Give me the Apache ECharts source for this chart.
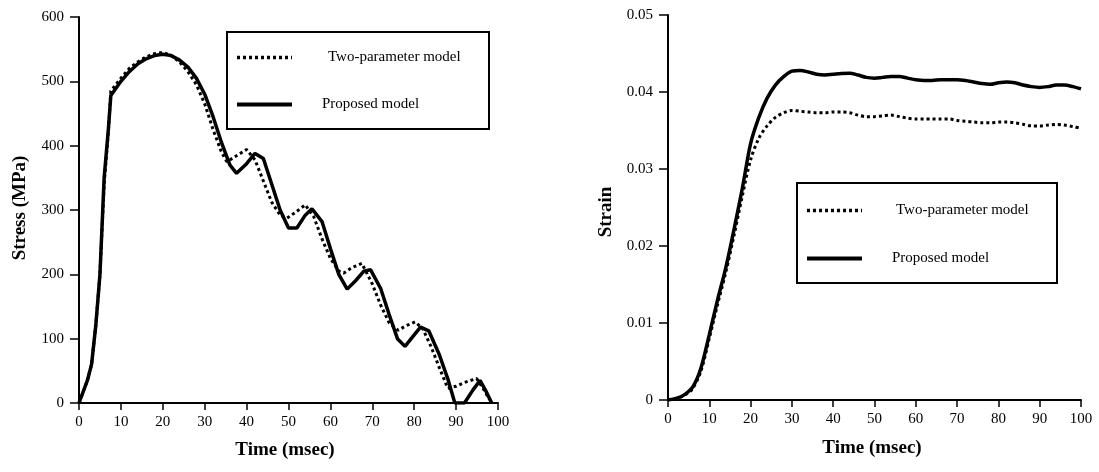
<!DOCTYPE html>
<html>
<head>
<meta charset="utf-8">
<script src="https://cdn.jsdelivr.net/npm/echarts@6/dist/echarts.min.js"></script>
<style>
html,body{margin:0;padding:0;background:#fff;}
#chart{width:1099px;height:472px;}
</style>
</head>
<body>
<div id="chart"></div>
<script>
// ---- Data ----
const seriesNames = ['Two-parameter model', 'Proposed model'];

// Left chart: Stress (MPa) vs Time (msec)
const stressProposed = [
  [0,0],[2,35],[3,60],[4,120],[5,200],[6,350],[7,425],[7.6,478],[10,500],[12,515],[14,527],[16,535],[18,540],[20,542],
  [22,540],[24,533],[26,522],[28,505],[30,480],[32,445],[34,405],[36,370],[37.6,357],[40,372],[42,388],[44,380],
  [46,340],[48,300],[50,272],[52,272],[54,292],[55.6,302],[58,282],[60,240],[62,200],[64,177],[66,190],[68,205],
  [69.6,207],[72,178],[74,138],[76,100],[77.8,88],[80,106],[81.5,118],[83.5,112],[86,75],[88,38],[89.7,0],[92,0],
  [94,20],[95.7,35],[97,20],[98.5,0]
];
const stressTwoParam = [
  [0,0],[2,35],[3,60],[4,120],[5,200],[6,340],[7,420],[7.6,485],[10,505],[12,520],[14,530],[16,538],[18,543],[20,545],
  [22,540],[24,530],[26,515],[28,495],[30,465],[32,425],[34,390],[35.3,375],[38,386],[40,394],[42,378],[44,345],
  [46,312],[48,292],[49.6,287],[52,298],[54,308],[56,290],[58,255],[60,225],[62,205],[63.2,202],[65,210],[67.5,217],
  [70,185],[72,152],[74,125],[76.2,113],[78,120],[80.2,126],[82,116],[84,88],[86,55],[88,23],[90,26],[92,32],
  [94.9,38],[96.5,22],[98,5]
];

// Right chart: Strain vs Time (msec)
const strainTime = [0,2,4,6,8,10,12,14,16,18,20,22,24,26,28,30,32,34,36,38,40,42,44,46,48,50,
  52,54,56,58,60,62,64,66,68,70,72,74,76,78,80,82,84,86,88,90,92,94,96,98,100];
const strainProposed = [0,0.0002,0.0007,0.0017,0.0042,0.0085,0.013,0.0172,0.0222,0.0275,0.0333,0.0367,0.0392,
  0.0409,0.042,0.0427,0.0428,0.0426,0.0423,0.0422,0.0423,0.0424,0.04245,0.0422,0.0419,0.0418,0.0419,0.042,0.042,
  0.0418,0.0416,0.0415,0.0415,0.0416,0.0416,0.0416,0.0415,0.0413,0.0411,0.041,0.0412,0.0413,0.0412,0.0409,0.0407,
  0.0406,0.0407,0.0409,0.0409,0.0407,0.0404];
const strainTwoParam = [0,0.0002,0.0006,0.0015,0.0038,0.008,0.0124,0.0166,0.0214,0.0265,0.0312,0.034,0.0356,
  0.0367,0.0373,0.0376,0.0375,0.0374,0.0373,0.0373,0.0374,0.0374,0.0373,0.037,0.0368,0.0368,0.0369,0.037,0.0368,
  0.0366,0.0365,0.0365,0.0365,0.0365,0.0365,0.0363,0.0362,0.0361,0.036,0.036,0.0361,0.0361,0.036,0.0358,0.0356,
  0.0356,0.0357,0.0358,0.0357,0.0355,0.0353];

// ---- Chart ----
const FONT = 'Liberation Serif';
const chart = echarts.init(document.getElementById('chart'), null, {renderer: 'canvas'});

function xAx(gridIndex) {
  return {
    type: 'value', gridIndex, min: 0, max: 100, interval: 10,
    axisLine: {show: true, lineStyle: {color: '#000', width: 2}},
    axisTick: {show: true, length: 7, lineStyle: {color: '#000', width: 1.5}},
    axisLabel: {color: '#000', fontFamily: FONT, fontSize: 15, margin: 12},
    splitLine: {show: false}
  };
}
function yAx(gridIndex, max, interval) {
  return {
    type: 'value', gridIndex, min: 0, max, interval,
    axisLine: {show: true, lineStyle: {color: '#000', width: 2}},
    axisTick: {show: true, length: 9, lineStyle: {color: '#000', width: 1.5}},
    axisLabel: {color: '#000', fontFamily: FONT, fontSize: 15, margin: 15},
    splitLine: {show: false}
  };
}
const solidStyle = {color: '#000', width: 3.5};
const dotStyle = {color: '#000', width: 3, type: [3, 3]};

function legendCfg(left, top, gap, pad1, pad2) {
  return {
    orient: 'vertical', left, top, padding: 0, itemWidth: 55, itemHeight: 14, itemGap: gap,
    textStyle: {fontFamily: FONT, fontSize: 15, color: '#000'},
    data: [
      {name: seriesNames[0], textStyle: {padding: [0, 0, 0, pad1]},
        itemStyle: {opacity: 0}, lineStyle: {color: '#000', width: 3.5, type: [3, 3]}},
      {name: seriesNames[1], textStyle: {padding: [0, 0, 0, pad2]},
        itemStyle: {opacity: 0}, lineStyle: {color: '#000', width: 4}}
    ]
  };
}

const option = {
  animation: false,
  backgroundColor: '#fff',
  grid: [
    {left: 79, right: 601, top: 17, bottom: 69},
    {left: 668, right: 18, top: 15, bottom: 72}
  ],
  xAxis: [xAx(0), xAx(1)],
  yAxis: [yAx(0, 600, 100), yAx(1, 0.05, 0.01)],
  legend: [legendCfg(235, 50, 32, 31, 25), legendCfg(805, 203, 33, 29, 25)],
  graphic: [
    {type: 'rect', shape: {x: 227, y: 32, width: 262, height: 97}, style: {fill: 'none', stroke: '#000', lineWidth: 2}, z: 10},
    {type: 'rect', shape: {x: 797, y: 183, width: 260, height: 100}, style: {fill: 'none', stroke: '#000', lineWidth: 2}, z: 10},
    {type: 'text', x: 20, y: 208, rotation: Math.PI / 2,
      style: {text: 'Stress (MPa)', font: 'bold 19px "Liberation Serif"', fill: '#000', textAlign: 'center', textVerticalAlign: 'middle'}},
    {type: 'text', x: 285, y: 450,
      style: {text: 'Time (msec)', font: 'bold 19px "Liberation Serif"', fill: '#000', textAlign: 'center', textVerticalAlign: 'middle'}},
    {type: 'text', x: 606, y: 212, rotation: Math.PI / 2,
      style: {text: 'Strain', font: 'bold 19px "Liberation Serif"', fill: '#000', textAlign: 'center', textVerticalAlign: 'middle'}},
    {type: 'text', x: 872, y: 448,
      style: {text: 'Time (msec)', font: 'bold 19px "Liberation Serif"', fill: '#000', textAlign: 'center', textVerticalAlign: 'middle'}}
  ],
  series: [
    {name: seriesNames[0], type: 'line', xAxisIndex: 0, yAxisIndex: 0, data: stressTwoParam,
      symbol: 'none', color: '#000', lineStyle: dotStyle},
    {name: seriesNames[1], type: 'line', xAxisIndex: 0, yAxisIndex: 0, data: stressProposed,
      symbol: 'none', color: '#000', lineStyle: solidStyle},
    {name: seriesNames[0], type: 'line', xAxisIndex: 1, yAxisIndex: 1,
      data: strainTime.map((t, i) => [t, strainTwoParam[i]]),
      symbol: 'none', smooth: 0.3, color: '#000', lineStyle: dotStyle},
    {name: seriesNames[1], type: 'line', xAxisIndex: 1, yAxisIndex: 1,
      data: strainTime.map((t, i) => [t, strainProposed[i]]),
      symbol: 'none', smooth: 0.3, color: '#000', lineStyle: solidStyle}
  ]
};
chart.setOption(option);
</script>
</body>
</html>
